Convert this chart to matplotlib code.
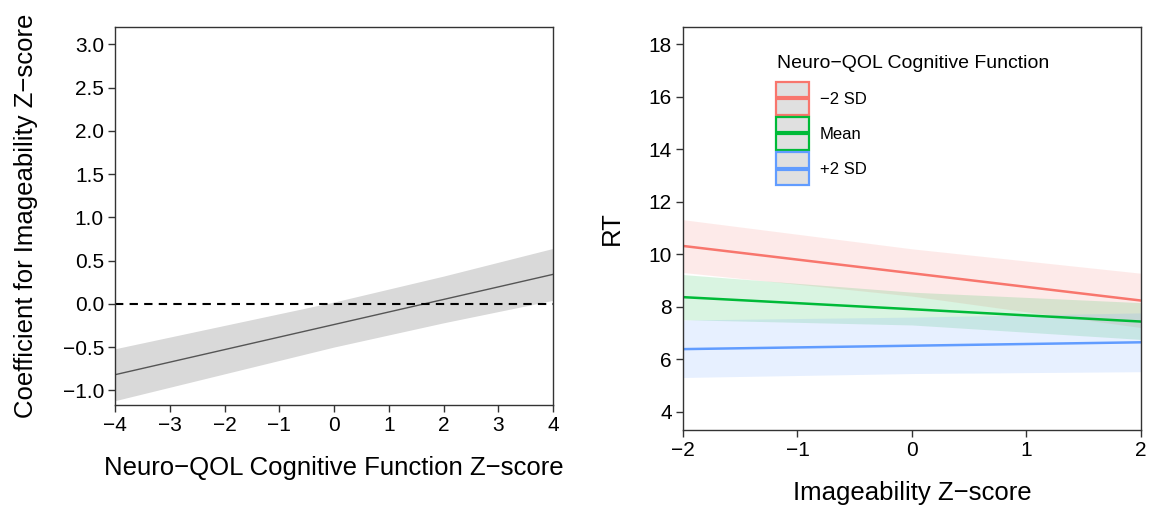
import matplotlib
matplotlib.use("Agg")
import matplotlib.pyplot as plt
from matplotlib.patches import Rectangle
from matplotlib.lines import Line2D
from matplotlib.legend_handler import HandlerBase
import numpy as np

plt.rcParams['font.family'] = ['Liberation Sans', 'DejaVu Sans']

# Left panel: coefficient for imageability vs Neuro-QOL
cog_x = [-4, -2, 0, 2, 4]
coef_fit = [-0.82, -0.53, -0.24, 0.05, 0.34]
coef_lo = [-1.12, -0.81, -0.50, -0.22, 0.04]
coef_hi = [-0.52, -0.25, 0.02, 0.32, 0.64]

# Right panel: RT vs imageability by Neuro-QOL level
img_x = [-2, 0, 2]
groups = ["\u22122 SD", "Mean", "+2 SD"]
colors = ["#F8766D", "#00BA38", "#619CFF"]
legend_title = "Neuro\u2212QOL Cognitive Function"
rt_fit = {
    "\u22122 SD": [10.31, 9.27, 8.23],
    "Mean": [8.36, 7.90, 7.43],
    "+2 SD": [6.38, 6.51, 6.64],
}
rt_lo = {
    "\u22122 SD": [9.30, 8.40, 7.20],
    "Mean": [7.50, 7.30, 6.75],
    "+2 SD": [5.30, 5.45, 5.52],
}
rt_hi = {
    "\u22122 SD": [11.31, 10.20, 9.27],
    "Mean": [9.22, 8.55, 8.15],
    "+2 SD": [7.49, 7.60, 7.76],
}


class KeyHandler(HandlerBase):
    def create_artists(self, legend, orig_handle, xdescent, ydescent,
                       width, height, fontsize, trans):
        c = orig_handle.get_color()
        rect = Rectangle((-xdescent, -ydescent), width, height,
                         facecolor="#E0E0E0", edgecolor=c, lw=1.6, transform=trans)
        ym = -ydescent + height / 2
        ln = Line2D([-xdescent + width * 0.1, -xdescent + width * 0.9], [ym, ym],
                    color=c, lw=3, transform=trans)
        return [rect, ln]


fig = plt.figure(figsize=(11.49, 5.07), dpi=100)

spine_c = "#333333"
tick_fs = 15
lab_fs = 18.5

# ---------- left ----------
ax1 = fig.add_axes([0.1001, 0.2012, 0.3812, 0.7456])
ax1.fill_between(cog_x, coef_lo, coef_hi, color="#D9D9D9", lw=0)
ax1.plot(cog_x, coef_fit, color="#555555", lw=1)
ax1.axhline(0, color="black", lw=1.5, ls=(0, (4, 3)))
ax1.set_xlim(-4, 4)
ax1.set_ylim(-1.17, 3.2)
ax1.set_xticks(range(-4, 5))
yt = np.arange(-1.0, 3.01, 0.5)
ax1.set_yticks(yt)
ax1.set_yticklabels([f"{v:.1f}".replace("-", "\u2212") for v in yt])
ax1.set_xlabel("Neuro\u2212QOL Cognitive Function Z\u2212score", fontsize=lab_fs, labelpad=15)
ax1.set_ylabel("Coefficient for Imageability Z\u2212score", fontsize=lab_fs)
ax1.yaxis.set_label_coords(-0.175, 0.5)

# ---------- right ----------
ax2 = fig.add_axes([0.5944, 0.1519, 0.3986, 0.7949])
for g, c in zip(groups, colors):
    ax2.fill_between(img_x, rt_lo[g], rt_hi[g], color=c, alpha=0.15, lw=0)
lines = []
for g, c in zip(groups, colors):
    l, = ax2.plot(img_x, rt_fit[g], color=c, lw=1.8)
    lines.append(l)
ax2.set_xlim(-2, 2)
ax2.set_ylim(3.3, 18.65)
ax2.set_xticks(range(-2, 3))
ax2.set_yticks(range(4, 19, 2))
ax2.set_xlabel("Imageability Z\u2212score", fontsize=lab_fs, labelpad=15)
ax2.set_ylabel("RT", fontsize=lab_fs)
ax2.yaxis.set_label_coords(-0.13, 0.5)

ax2.text(0.205, 0.898, legend_title, transform=ax2.transAxes,
         fontsize=14, ha="left", va="baseline")
leg = ax2.legend(lines, groups,
                 handler_map={Line2D: KeyHandler()},
                 loc="upper left", bbox_to_anchor=(0.203, 0.8635), frameon=False,
                 fontsize=12, handlelength=2.0, handleheight=2.67,
                 labelspacing=0.12, handletextpad=0.65, borderaxespad=0,
                 borderpad=0)

for ax in (ax1, ax2):
    for s in ax.spines.values():
        s.set_color(spine_c)
        s.set_linewidth(1.0)
    ax.tick_params(direction="out", length=5, width=1, color=spine_c,
                   labelsize=tick_fs, labelcolor="black", pad=3)

fig.savefig("out.png", dpi=100)
